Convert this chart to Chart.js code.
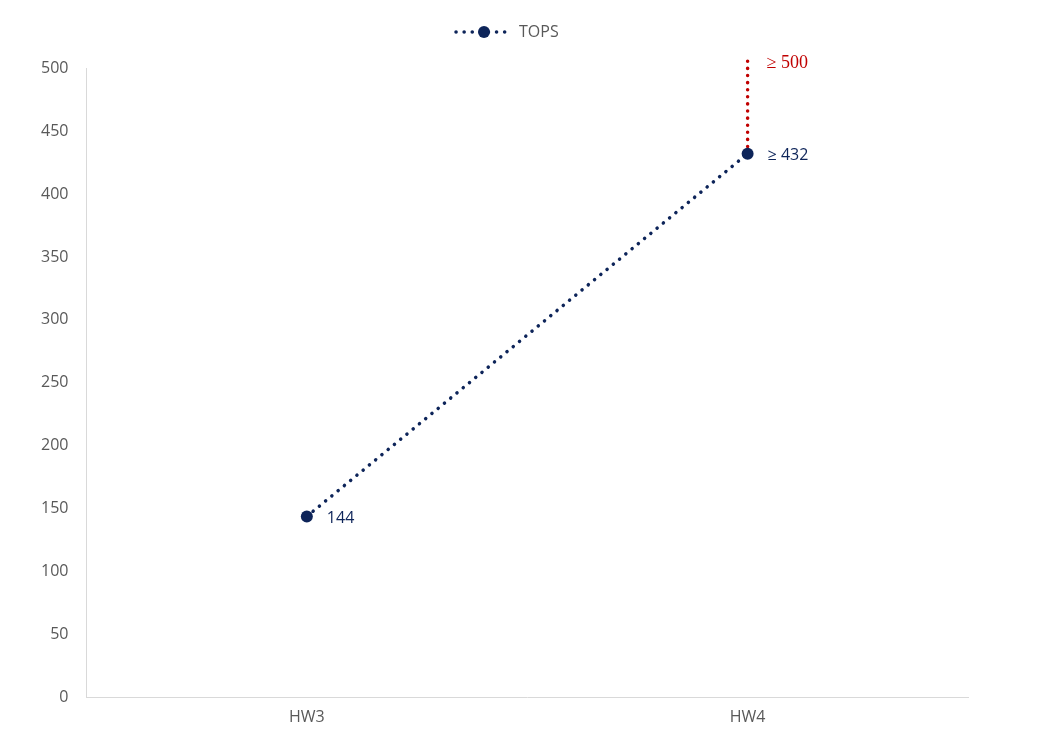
<!DOCTYPE html>
<html>
<head>
<meta charset="utf-8">
<script src="https://cdn.jsdelivr.net/npm/chart.js@4.4.1/dist/chart.umd.min.js"></script>
<style>
  html, body { margin: 0; padding: 0; background: #fff; }
  #wrap { width: 1046px; height: 744px; }
</style>
</head>
<body>
<div id="wrap"><canvas id="chart"></canvas></div>
<script>
const categories = ['HW3', 'HW4'];
const topsValues = [144, 432];
const topsLabels = ['144', '≥ 432'];
const upperValue = 510;
const upperLabel = '≥ 500';

const navy = '#0d2459';
const red = '#c00000';

// labels next to points plus a hand-drawn legend (dotted line with a dot)
const pointLabels = {
  id: 'pointLabels',
  afterDatasetsDraw(chart) {
    const ctx = chart.ctx;
    ctx.save();
    ctx.textBaseline = 'middle';
    chart.getDatasetMeta(0).data.forEach((pt, i) => {
      ctx.fillStyle = navy;
      ctx.font = '16px "Open Sans", sans-serif';
      ctx.fillText(topsLabels[i], pt.x + 20, pt.y + 2);
    });
    const up = chart.getDatasetMeta(1).data[1];
    ctx.fillStyle = red;
    ctx.font = '18px "Liberation Serif", serif';
    ctx.fillText(upperLabel, up.x + 19, up.y + 8);

    const cx = chart.width / 2 - 39, ly = 32;
    ctx.strokeStyle = navy;
    ctx.lineWidth = 3.5;
    ctx.lineCap = 'round';
    ctx.setLineDash([0.1, 8]);
    ctx.beginPath();
    ctx.moveTo(cx - 28, ly);
    ctx.lineTo(cx + 28, ly);
    ctx.stroke();
    ctx.setLineDash([]);
    ctx.fillStyle = navy;
    ctx.beginPath();
    ctx.arc(cx, ly, 6, 0, Math.PI * 2);
    ctx.fill();
    ctx.fillStyle = '#595959';
    ctx.font = '16px "Open Sans", sans-serif';
    ctx.fillText('TOPS', cx + 35, ly);
    ctx.restore();
  }
};

new Chart(document.getElementById('chart'), {
  type: 'line',
  data: {
    datasets: [
      {
        label: 'TOPS',
        data: topsValues.map((v, i) => ({ x: i, y: v })),
        borderColor: navy,
        backgroundColor: navy,
        borderWidth: 3.5,
        borderDash: [0.1, 8],
        borderCapStyle: 'round',
        pointRadius: 6,
        pointBackgroundColor: navy,
        pointBorderWidth: 0,
        clip: false
      },
      {
        label: 'upper',
        data: [{ x: 1, y: topsValues[1] }, { x: 1, y: upperValue }],
        borderColor: red,
        backgroundColor: red,
        borderWidth: 3.5,
        borderDash: [0.1, 7],
        borderCapStyle: 'round',
        pointRadius: c => (c.dataIndex === 1 ? 5.5 : 0),
        pointBackgroundColor: red,
        pointBorderColor: red,
        pointBorderWidth: 0,
        clip: false
      }
    ]
  },
  options: {
    responsive: true,
    maintainAspectRatio: false,
    animation: false,
    layout: { padding: { top: 68, right: 78, left: 23, bottom: 7 } },
    plugins: {
      legend: { display: false },
      tooltip: { enabled: false }
    },
    scales: {
      x: {
        type: 'linear',
        min: -0.5,
        max: 1.5,
        afterBuildTicks: axis => { axis.ticks = categories.map((c, i) => ({ value: i })); },
        ticks: {
          callback: v => categories[v],
          color: '#595959',
          font: { size: 16, family: '"Open Sans", sans-serif' },
          padding: 10
        },
        grid: { display: false, drawTicks: false },
        border: { color: '#d9d9d9', width: 1 }
      },
      y: {
        min: 0,
        max: 500,
        ticks: {
          stepSize: 50,
          color: '#595959',
          font: { size: 16, family: '"Open Sans", sans-serif' },
          padding: 18
        },
        grid: { display: false, drawTicks: false },
        border: { color: '#d9d9d9', width: 1 }
      }
    }
  },
  plugins: [pointLabels]
});
</script>
</body>
</html>
